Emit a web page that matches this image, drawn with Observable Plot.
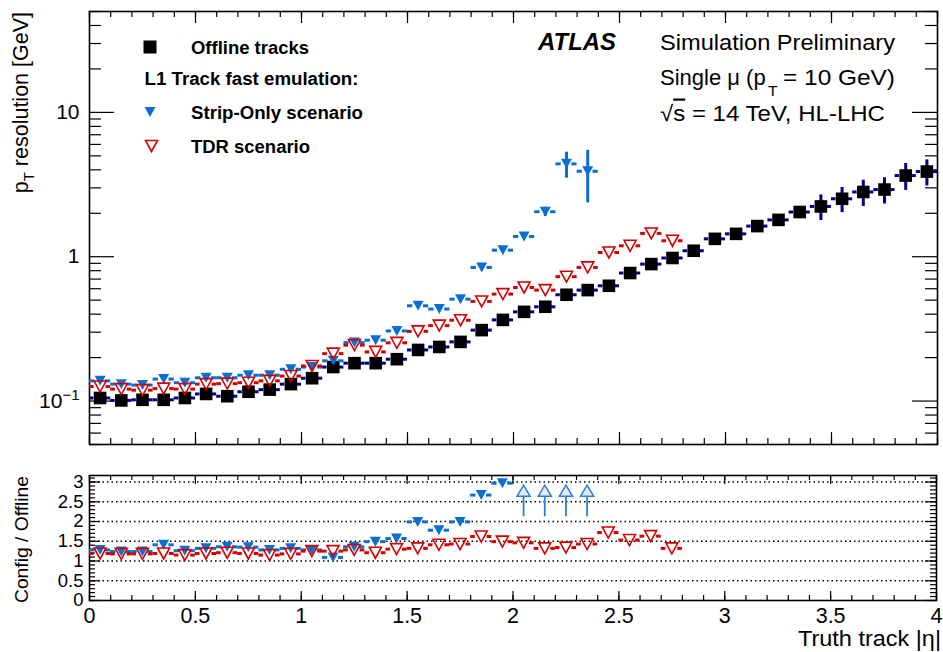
<!DOCTYPE html>
<html><head><meta charset="utf-8">
<script src="https://cdn.jsdelivr.net/npm/d3@7"></script>
<script src="https://cdn.jsdelivr.net/npm/@observablehq/plot@0.6"></script>
<style>
body{margin:0;background:#fff;}
#wrap{position:relative;width:943px;height:652px;font-family:"Liberation Sans",Arial,Helvetica,sans-serif;}
#wrap > svg{position:absolute;left:0;}
</style></head><body><div id="wrap"></div>
<script>
// ---------------- data ----------------
const eta = [0.05,0.15,0.25,0.35,0.45,0.55,0.65,0.75,0.85,0.95,
             1.05,1.15,1.25,1.35,1.45,1.55,1.65,1.75,1.85,1.95,
             2.05,2.15,2.25,2.35,2.45,2.55,2.65,2.75,2.85,2.95,
             3.05,3.15,3.25,3.35,3.45,3.55,3.65,3.75,3.85,3.95];
const offline = [0.105,0.101,0.102,0.102,0.105,0.112,0.108,0.116,0.120,0.131,
                 0.144,0.172,0.183,0.183,0.195,0.226,0.237,0.257,0.310,0.365,
                 0.415,0.450,0.545,0.587,0.629,0.771,0.889,0.980,1.10,1.33,
                 1.44,1.63,1.80,2.04,2.23,2.52,2.81,2.92,3.65,3.89];
const offlineErr = [0.002,0.002,0.002,0.002,0.002,0.002,0.002,0.002,0.002,0.003,
                    0.003,0.004,0.004,0.004,0.005,0.006,0.006,0.007,0.008,0.01,
                    0.012,0.013,0.016,0.018,0.02,0.025,0.03,0.035,0.05,0.06,
                    0.08,0.1,0.12,0.15,0.45,0.5,0.58,0.6,0.77,0.8];
const strip = [0.138,0.131,0.129,0.142,0.134,0.145,0.145,0.151,0.151,0.166,
               0.172,0.190,0.254,0.264,0.306,0.457,0.434,0.508,0.843,1.11,
               1.38,2.05,4.40,3.91];
const stripErr = [0.003,0.003,0.003,0.003,0.003,0.003,0.003,0.003,0.003,0.004,
                  0.004,0.005,0.006,0.007,0.008,0.01,0.01,0.012,0.02,0.03,
                  0.05,0.15,0.9,1.55];
const tdr = [0.126,0.121,0.119,0.122,0.121,0.131,0.132,0.134,0.138,0.149,
             0.175,0.213,0.244,0.219,0.253,0.304,0.333,0.363,0.490,0.551,
             0.612,0.587,0.727,0.843,1.07,1.19,1.45,1.29];
const ratioStrip = [1.28,1.24,1.24,1.41,1.26,1.32,1.36,1.35,1.28,1.32,
                    1.28,1.09,1.36,1.49,1.57,1.99,1.78,1.99,2.67,2.97];
const stripOffScale = [2.05,2.15,2.25,2.35];   // ratio above the displayed range
const ratioTdr = [1.19,1.18,1.18,1.19,1.15,1.19,1.21,1.19,1.15,1.18,
                  1.25,1.25,1.28,1.21,1.30,1.32,1.41,1.43,1.62,1.49,
                  1.46,1.32,1.34,1.43,1.72,1.53,1.63,1.32];
const xTickLabels = [0,0.5,1,1.5,2,2.5,3,3.5,4];
const yTicksMain = [0.1,1,10];
const yTicksRatio = [0,0.5,1,1.5,2,2.5,3];
const ratioGrid = [0.5,1,1.5,2,2.5,3];

// ---------------- style ----------------
const FONT = '"Liberation Sans", Arial, Helvetica, sans-serif';
const NAVY = "#00008f", BLUE = "#0b6fd2", RED = "#d40000";
const W = 943, mL = 89, mR = 6;
const fW = W - mL - mR;
const hw = 0.05;

const squareSym = {draw(c){const h=6.3;c.moveTo(-h,-h);c.lineTo(h,-h);c.lineTo(h,h);c.lineTo(-h,h);c.closePath();}};
const triDown = (w,h)=>({draw(c){c.moveTo(-w/2,-h/2);c.lineTo(w/2,-h/2);c.lineTo(0,h/2);c.closePath();}});
const triUp = (w,h)=>({draw(c){c.moveTo(-w/2,h/2);c.lineTo(w/2,h/2);c.lineTo(0,-h/2);c.closePath();}});
const blueTri = triDown(11,10), redTri = triDown(12,11), arrowHead = triUp(13,11);

const offRows = eta.map((e,i)=>({eta:e, v:offline[i], err:offlineErr[i]}));
const stripRows = strip.map((v,i)=>({eta:eta[i], v, err:stripErr[i]}));
const tdrRows = tdr.map((v,i)=>({eta:eta[i], v}));
const rStripRows = ratioStrip.map((v,i)=>({eta:eta[i], v}));
const rTdrRows = ratioTdr.map((v,i)=>({eta:eta[i], v}));

function hBars(rows, gap, color){
  return [
    Plot.ruleY(rows,{y:"v", x1:d=>d.eta-hw, x2:d=>d.eta-gap, stroke:color, strokeWidth:3}),
    Plot.ruleY(rows,{y:"v", x1:d=>d.eta+gap, x2:d=>d.eta+hw, stroke:color, strokeWidth:3})
  ];
}
function vBars(rows, color){
  return Plot.ruleX(rows.filter(d=>d.err>0),{x:"eta", y1:d=>d.v-d.err, y2:d=>d.v+d.err, stroke:color, strokeWidth:3});
}
const xMinor = d3.range(0,41).map(i=>i/10);
function tickMarks(fH, xMaj, xMin, yMaj, yMin, lx, ly){
  const s = {stroke:"#000", strokeWidth:1.2};
  return [
    Plot.ruleX(xMinor,{...s, insetTop:fH-xMin}),
    Plot.ruleX(xTickLabels,{...s, insetTop:fH-xMaj}),
    Plot.ruleX(xMinor,{...s, insetBottom:fH-xMin}),
    Plot.ruleX(xTickLabels,{...s, insetBottom:fH-xMaj}),
    Plot.ruleY(ly,{...s, insetRight:fW-yMin}),
    Plot.ruleY(lx,{...s, insetRight:fW-yMaj}),
    Plot.ruleY(ly,{...s, insetLeft:fW-yMin}),
    Plot.ruleY(lx,{...s, insetLeft:fW-yMaj})
  ];
}

// ---------------- main panel ----------------
const mainH = 460, mT = 11, mB = 16;
const mainMinor = [];
for (const dec of [0.01,0.1,1,10]) for (let k=2;k<=9;k++){const v=+(k*dec).toPrecision(3); if(v>=0.05 && v<=50) mainMinor.push(v);}
const main = Plot.plot({
  width:W, height:mainH, marginTop:mT, marginBottom:mB, marginLeft:mL, marginRight:mR,
  style:{fontFamily:FONT, background:"transparent", color:"#000"},
  x:{domain:[0,4], axis:null},
  y:{type:"log", domain:[0.05,50], axis:null},
  marks:[
    ...tickMarks(mainH-mT-mB, 12, 6, 25, 12, yTicksMain, mainMinor),
    Plot.axisY({ticks:yTicksMain, tickSize:0, tickPadding:10, fontSize:21, label:null,
                tickFormat:d=>d===0.1?"0.1":String(d)}),
    Plot.frame({stroke:"#000", strokeWidth:1.6}),
    ...hBars(offRows, 0.029, NAVY), vBars(offRows, NAVY),
    Plot.dot(offRows,{x:"eta", y:"v", symbol:squareSym, fill:"#000", stroke:"none"}),
    ...hBars(stripRows, 0.025, BLUE), vBars(stripRows, BLUE),
    Plot.dot(stripRows,{x:"eta", y:"v", symbol:blueTri, fill:BLUE, stroke:"none"}),
    ...hBars(tdrRows, 0.028, RED),
    Plot.dot(tdrRows,{x:"eta", y:"v", symbol:redTri, fill:"none", stroke:RED, strokeWidth:1.6})
  ]
});
main.style.top = "0px";
// 10^-1 label
for (const t of main.querySelectorAll("text")) {
  if (t.textContent === "0.1") {
    t.textContent = "10";
    const sup = document.createElementNS("http://www.w3.org/2000/svg","tspan");
    sup.setAttribute("dy","-8"); sup.setAttribute("font-size","15"); sup.textContent = "\u22121";
    t.appendChild(sup);
  }
}

// ---------------- ratio panel ----------------
const rH = 192, rT = 15, rB = 52;
const ratioMinor = d3.range(0,32).map(i=>i/10);
const arrowBase = 2.12, arrowMid = 2.78;
const ratio = Plot.plot({
  width:W, height:rH, marginTop:rT, marginBottom:rB, marginLeft:mL, marginRight:mR+1,
  style:{fontFamily:FONT, background:"transparent", color:"#000"},
  x:{domain:[0,4], axis:null},
  y:{domain:[0,3.165], axis:null},
  marks:[
    Plot.ruleY(ratioGrid,{stroke:"#000", strokeWidth:1.3, strokeDasharray:"1.5,3"}),
    ...tickMarks(rH-rT-rB, 9, 5, 12, 7, yTicksRatio, ratioMinor),
    Plot.axisX({ticks:xTickLabels, tickSize:0, tickPadding:7, fontSize:21.5, label:null, tickFormat:d=>String(d)}),
    Plot.axisY({ticks:yTicksRatio, tickSize:0, tickPadding:6, fontSize:18.5, label:null, tickFormat:d=>String(d)}),
    Plot.frame({stroke:"#000", strokeWidth:1.6}),
    ...hBars(rStripRows, 0.025, BLUE),
    Plot.dot(rStripRows,{x:"eta", y:"v", symbol:blueTri, fill:BLUE, stroke:"none"}),
    Plot.ruleX(stripOffScale,{x:d=>d, y1:arrowBase, y2:arrowMid, stroke:"#2a80d8", strokeWidth:1.8}),
    Plot.dot(stripOffScale,{x:d=>d, y:arrowMid, symbol:arrowHead, fill:"#e6eaf2", stroke:"#2a80d8", strokeWidth:1.6}),
    ...hBars(rTdrRows, 0.028, RED),
    Plot.dot(rTdrRows,{x:"eta", y:"v", symbol:redTri, fill:"none", stroke:RED, strokeWidth:1.6})
  ]
});
ratio.style.top = mainH + "px";

const wrap = document.getElementById("wrap");
wrap.appendChild(main);
wrap.appendChild(ratio);

// ---------------- overlay text / legend ----------------
const ov = `
<svg width="943" height="652" style="position:absolute;left:0;top:0;pointer-events:none" font-family='${FONT}'>
  <text transform="translate(27.5,12) rotate(-90)" text-anchor="end" font-size="21.5">p<tspan font-size="15" dy="6">T</tspan><tspan dy="-6"> resolution [GeV]</tspan></text>
  <text transform="translate(27.5,603) rotate(-90)" text-anchor="start" font-size="18" textLength="127" lengthAdjust="spacingAndGlyphs">Config / Offline</text>
  <text x="941" y="646" text-anchor="end" font-size="22" textLength="143" lengthAdjust="spacingAndGlyphs">Truth track |η|</text>

  <rect x="143.5" y="40.5" width="13" height="13" fill="#000"/>
  <path d="M144.5,107 L155.5,107 L150,117 Z" fill="${BLUE}"/>
  <path d="M145.5,140.5 L157.5,140.5 L151.5,151.5 Z" fill="none" stroke="${RED}" stroke-width="1.6"/>
  <g font-weight="bold" font-size="17.5">
    <text x="191" y="54" textLength="118" lengthAdjust="spacingAndGlyphs">Offline tracks</text>
    <text x="144.5" y="85" textLength="214" lengthAdjust="spacingAndGlyphs">L1 Track fast emulation:</text>
    <text x="191" y="118.5" textLength="172" lengthAdjust="spacingAndGlyphs">Strip-Only scenario</text>
    <text x="191" y="152.5" textLength="119" lengthAdjust="spacingAndGlyphs">TDR scenario</text>
  </g>

  <text x="538" y="50" font-size="23" font-weight="bold" font-style="italic" textLength="78" lengthAdjust="spacingAndGlyphs">ATLAS</text>
  <text x="660" y="50" font-size="22" textLength="235" lengthAdjust="spacingAndGlyphs">Simulation Preliminary</text>
  <text x="660" y="85" font-size="22">Single μ (p</text>
  <text x="768" y="96" font-size="15.5">T</text>
  <text x="895" y="85" font-size="22" text-anchor="end" textLength="112" lengthAdjust="spacingAndGlyphs">= 10 GeV)</text>
  <text x="660" y="120.5" font-size="22" textLength="225" lengthAdjust="spacingAndGlyphs">√<tspan style="text-decoration:overline">s</tspan> = 14 TeV, HL-LHC</text>
</svg>`;
wrap.insertAdjacentHTML("beforeend", ov);
</script>
</body></html>
